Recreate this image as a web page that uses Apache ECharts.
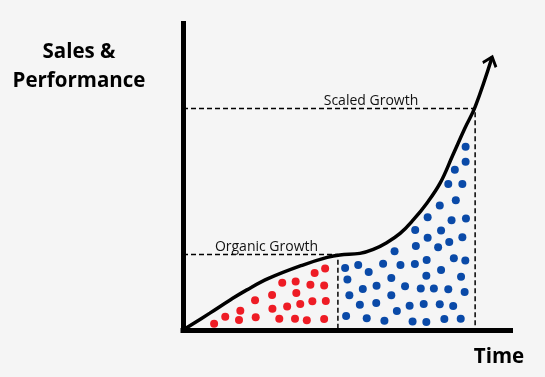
<!DOCTYPE html>
<html>
<head>
<meta charset="utf-8">
<script src="https://cdn.jsdelivr.net/npm/echarts@6/dist/echarts.min.js"></script>
<style>
  html, body { margin: 0; padding: 0; background: #f5f5f5; }
  #chart { width: 545px; height: 377px; }
</style>
</head>
<body>
<div id="chart"></div>
<script>
// growth curve (time, sales) on a 0-100 scale
const curvePoints = [
  [0, 0], [8.2, 5.5], [14.4, 9.8], [19.5, 13.1], [26.3, 16.9], [36.6, 21.2],
  [44.0, 23.7], [47.9, 24.5], [54.0, 25.0], [58.1, 26.3], [62.2, 28.5],
  [66.3, 31.5], [70.3, 35.9], [74.4, 41.3], [78.5, 47.9], [82.4, 57.1],
  [86.1, 65.9], [89.2, 72.8], [94.4, 89.1]
]

// phase markers
const organic = { x: 47.3, y: 24.6, labelX: 25.5, label: 'Organic Growth' }
const scaled = { x: 89.2, y: 72.3, labelX: 57.4, label: 'Scaled Growth' }

// dots under the curve
const organicDots = [
  [9.5, 2.0], [12.9, 4.3], [17.5, 6.3], [17.1, 3.3], [22.0, 9.7], [22.2, 4.2],
  [27.2, 11.4], [27.3, 6.9], [29.4, 3.7], [30.3, 15.4], [31.8, 7.7], [34.4, 15.8],
  [34.6, 12.1], [35.8, 8.5], [34.2, 3.7], [37.8, 3.2], [38.9, 14.8], [39.5, 9.4],
  [40.2, 18.6], [43.1, 14.5], [43.4, 20.1], [43.6, 9.5], [43.1, 3.6]
]
const scaledDots = [
  [86.3, 59.8], [86.3, 54.9], [83.0, 52.3], [81.0, 47.6], [85.3, 47.6], [83.3, 42.3],
  [78.4, 40.6], [74.7, 36.8], [82.0, 35.8], [86.4, 36.4], [70.9, 32.6], [78.8, 32.5],
  [74.7, 30.1], [85.3, 30.3], [81.3, 28.7], [71.1, 27.4], [77.9, 27.0], [64.6, 25.7],
  [49.5, 20.2], [53.5, 21.2], [56.7, 18.9], [61.1, 21.6], [66.4, 21.2], [70.8, 21.5],
  [74.4, 22.8], [82.7, 23.4], [86.2, 22.7], [50.2, 16.5], [63.6, 17.0], [74.3, 17.7],
  [78.8, 19.6], [84.9, 17.4], [59.1, 14.4], [54.9, 13.4], [67.8, 14.3], [72.6, 13.5],
  [76.6, 13.5], [81.0, 13.3], [86.0, 12.4], [50.8, 11.3], [63.6, 11.3], [54.0, 8.2],
  [59.0, 8.8], [69.2, 7.9], [73.5, 8.5], [78.4, 8.4], [82.5, 7.8], [65.3, 6.2],
  [49.8, 4.6], [56.1, 3.8], [61.5, 3.0], [70.1, 2.8], [74.3, 2.6], [79.8, 3.6],
  [84.8, 3.7]
]

const yTitle = 'Sales &\nPerformance'
const xTitle = 'Time'

const chart = echarts.init(document.getElementById('chart'))

const axisCommon = {
  type: 'value',
  min: 0,
  max: 100,
  axisLine: { show: true, lineStyle: { color: '#000', width: 5, cap: 'square' } },
  axisTick: { show: false },
  axisLabel: { show: false },
  splitLine: { show: false }
}

const dashed = { color: '#000', width: 1.5, type: [5, 3] }
const phaseLabel = { color: '#111', fontSize: 14, fontFamily: 'Open Sans' }

chart.setOption({
  backgroundColor: '#f5f5f5',
  animation: false,
  grid: { left: 183, right: 34.5, top: 23.5, bottom: 47 },
  xAxis: axisCommon,
  yAxis: axisCommon,
  graphic: [
    {
      type: 'text', x: 79, y: 67,
      style: {
        text: yTitle, textAlign: 'center', textVerticalAlign: 'middle',
        font: 'bold 20.5px "Open Sans"', lineHeight: 29, fill: '#000'
      }
    },
    {
      type: 'text', x: 499, y: 357,
      style: {
        text: xTitle, textAlign: 'center', textVerticalAlign: 'middle',
        font: 'bold 20.5px "Open Sans"', fill: '#000'
      }
    }
  ],
  series: [
    {
      name: 'organic',
      type: 'line',
      symbol: 'none',
      data: [[0, organic.y], [organic.x, organic.y], [organic.x, 0]],
      lineStyle: dashed,
      markPoint: {
        symbol: 'circle', symbolSize: 0,
        label: { show: true, position: 'top', distance: 1, formatter: organic.label, ...phaseLabel },
        data: [{ coord: [organic.labelX, organic.y] }]
      }
    },
    {
      name: 'scaled',
      type: 'line',
      symbol: 'none',
      data: [[0, scaled.y], [scaled.x, scaled.y], [scaled.x, 0]],
      lineStyle: dashed,
      markPoint: {
        symbol: 'circle', symbolSize: 0,
        label: { show: true, position: 'top', distance: 0, formatter: scaled.label, ...phaseLabel },
        data: [{ coord: [scaled.labelX, scaled.y] }]
      }
    },
    {
      name: 'organicDots',
      type: 'scatter',
      data: organicDots,
      symbolSize: 8,
      itemStyle: { color: '#ee1c25', opacity: 1 }
    },
    {
      name: 'scaledDots',
      type: 'scatter',
      data: scaledDots,
      symbolSize: 8,
      itemStyle: { color: '#0a4aa8', opacity: 1 }
    },
    {
      name: 'curve',
      type: 'line',
      symbol: 'none',
      smooth: 0.4,
      data: curvePoints,
      lineStyle: { color: '#000', width: 3.5 },
      z: 5
    },
    {
      name: 'arrow',
      type: 'scatter',
      data: [curvePoints[curvePoints.length - 1]],
      symbol: 'path://M7,0 M0,17 L7,8.5 L14,17',
      symbolSize: [14, 17],
      symbolRotate: -19,
      itemStyle: { color: 'transparent', borderColor: '#000', borderWidth: 3, opacity: 1 },
      z: 6
    }
  ]
})
</script>
</body>
</html>
